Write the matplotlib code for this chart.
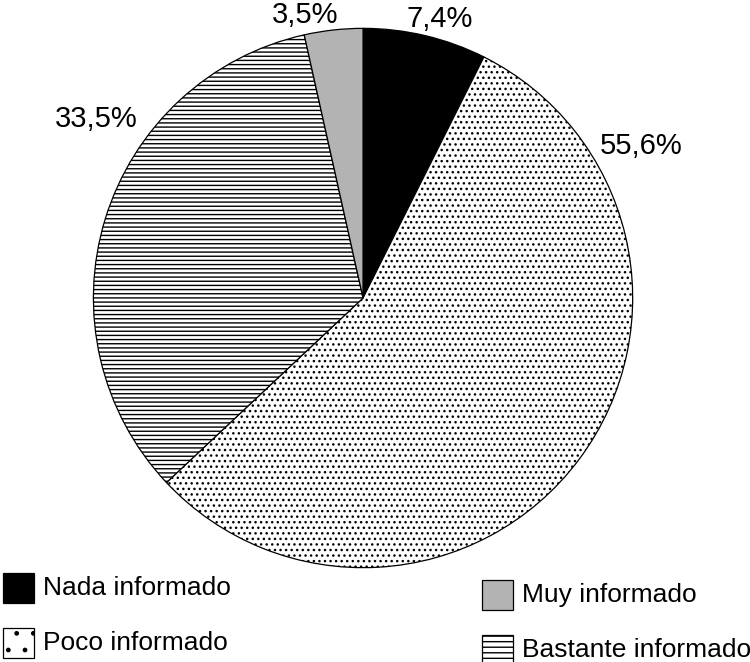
import matplotlib.pyplot as plt
import matplotlib.patches as mpatches

categories = ["Nada informado", "Poco informado", "Bastante informado", "Muy informado"]
values = [7.4, 55.6, 33.5, 3.5]
pct_labels = ["7,4%", "55,6%", "33,5%", "3,5%"]

plt.rcParams['font.family'] = ['Liberation Sans', 'DejaVu Sans']
plt.rcParams['hatch.linewidth'] = 1.0

colors = ["black", "white", "white", "#b3b3b3"]
hatches = [None, "...", "----", None]
legend_hatches = [None, ".", "---", None]

fig = plt.figure(figsize=(7.5, 6.62), dpi=100)
ax = fig.add_axes([0.1227, 0.1405, 0.7227, 0.8187])
wedges, _ = ax.pie(values, colors=colors, startangle=90, counterclock=False,
                   wedgeprops=dict(edgecolor="black", linewidth=0.9))
for w, h in zip(wedges, hatches):
    if h:
        w.set_hatch(h)
ax.set_xlim(-1.005, 1.005)
ax.set_ylim(-1.005, 1.005)
ax.set_aspect("equal")

# label positions in pie units
label_pos = [(0.284, 1.035), (1.03, 0.565), (-0.99, 0.664), (-0.214, 1.05)]
for (x, y), t in zip(label_pos, pct_labels):
    ax.text(x, y, t, ha="center", va="center", fontsize=21, clip_on=False)

# legend, drawn by hand in figure pixels
leg = [(3, 573, 0), (3, 628, 1), (482, 580, 3), (482, 635, 2)]
for x, y, i in leg:
    box = mpatches.Rectangle((x / 750, 1 - (y + 30) / 662), 31 / 750, 30 / 662,
                             transform=fig.transFigure, facecolor=colors[i],
                             edgecolor="black", linewidth=0.9,
                             hatch=legend_hatches[i])
    fig.patches.append(box)
    fig.text((x + 40) / 750, 1 - (y + 15) / 662, categories[i],
             ha="left", va="center", fontsize=19)

fig.savefig("out.png", dpi=100)
